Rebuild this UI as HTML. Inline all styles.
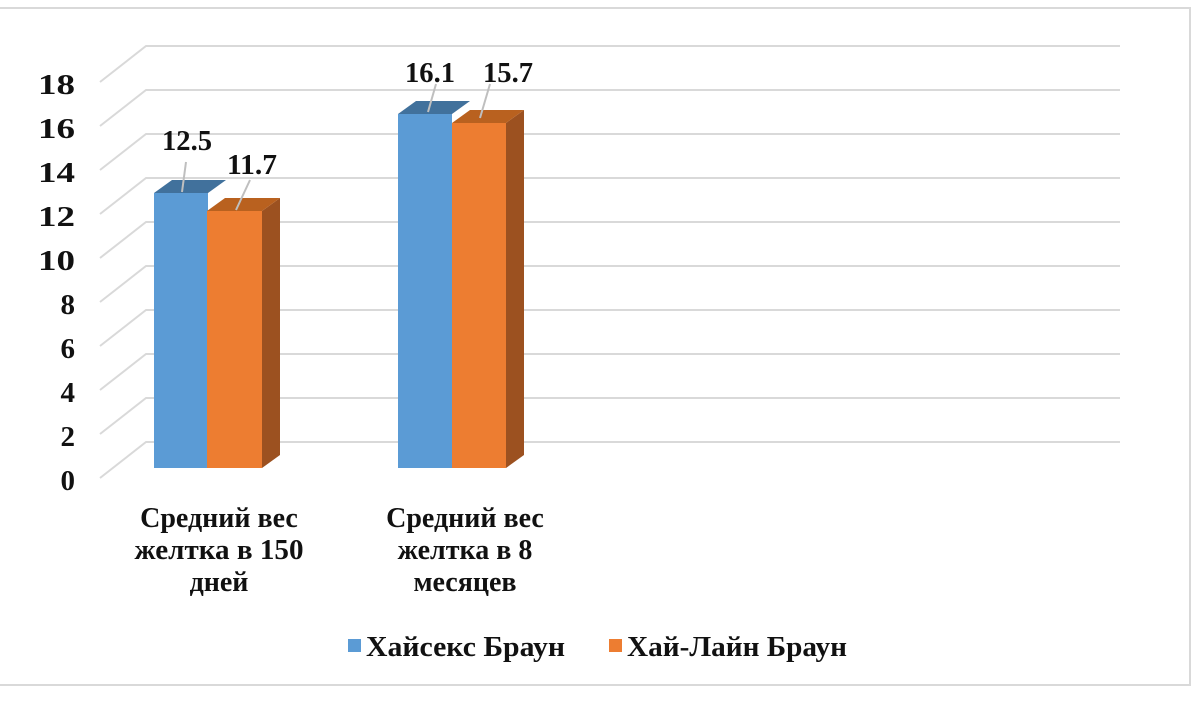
<!DOCTYPE html>
<html><head><meta charset="utf-8"><style>
html,body{margin:0;padding:0;background:#fff;}
svg text{font-family:"Liberation Serif",serif;font-weight:bold;fill:#111;}
</style></head><body>
<svg width="1200" height="713" viewBox="0 0 1200 713" xmlns="http://www.w3.org/2000/svg">
<rect x="-2" y="8" width="1192" height="677" fill="#fff" stroke="#d9d9d9" stroke-width="2"/>
<g stroke="#d9d9d9" stroke-width="2" fill="none">
<path d="M100 82 L146 46 H1120"/>
<path d="M100 126 L146 90 H1120"/>
<path d="M100 170 L146 134 H1120"/>
<path d="M100 214 L146 178 H1120"/>
<path d="M100 258 L146 222 H1120"/>
<path d="M100 302 L146 266 H1120"/>
<path d="M100 346 L146 310 H1120"/>
<path d="M100 390 L146 354 H1120"/>
<path d="M100 434 L146 398 H1120"/>
<path d="M100 478 L146 442 H1120"/>
</g>
<g font-size="29" text-anchor="end">
<text x="75" y="94" textLength="37" lengthAdjust="spacingAndGlyphs">18</text>
<text x="75" y="138" textLength="37" lengthAdjust="spacingAndGlyphs">16</text>
<text x="75" y="182" textLength="37" lengthAdjust="spacingAndGlyphs">14</text>
<text x="75" y="226" textLength="37" lengthAdjust="spacingAndGlyphs">12</text>
<text x="75" y="270" textLength="37" lengthAdjust="spacingAndGlyphs">10</text>
<text x="75" y="314">8</text>
<text x="75" y="358">6</text><text x="75" y="402">4</text><text x="75" y="446">2</text>
<text x="75" y="490">0</text>
</g>
<g>
<polygon points="154,193 172,180 226,180 208,193" fill="#41719c"/>
<rect x="154" y="193" width="54" height="275" fill="#5b9bd5"/>
<polygon points="262,211 280,198 280,455 262,468" fill="#9c5120"/>
<polygon points="207,211 225,198 280,198 262,211" fill="#b9611f"/>
<rect x="207" y="211" width="55" height="257" fill="#ed7d31"/>
<polygon points="398,114 416,101 470,101 452,114" fill="#41719c"/>
<rect x="398" y="114" width="54" height="354" fill="#5b9bd5"/>
<polygon points="506,123 524,110 524,455 506,468" fill="#9c5120"/>
<polygon points="452,123 470,110 524,110 506,123" fill="#b9611f"/>
<rect x="452" y="123" width="54" height="345" fill="#ed7d31"/>
</g>
<g stroke="#bfbfbf" stroke-width="2">
<line x1="186" y1="162" x2="182" y2="192"/>
<line x1="250" y1="180" x2="236" y2="210"/>
<line x1="436" y1="84" x2="428" y2="112"/>
<line x1="490" y1="84" x2="480" y2="118"/>
</g>
<g font-size="28">
<text x="162" y="150" textLength="50" lengthAdjust="spacingAndGlyphs">12.5</text>
<text x="227" y="174" textLength="50" lengthAdjust="spacingAndGlyphs">11.7</text>
<text x="405" y="82" textLength="50" lengthAdjust="spacingAndGlyphs">16.1</text>
<text x="483" y="82" textLength="50" lengthAdjust="spacingAndGlyphs">15.7</text>
</g>
<g font-size="28" text-anchor="middle">
<text x="219" y="527">Средний вес</text>
<text x="219" y="559" textLength="169" lengthAdjust="spacingAndGlyphs">желтка в 150</text>
<text x="219" y="591">дней</text>
<text x="465" y="527">Средний вес</text>
<text x="465" y="559">желтка в 8</text>
<text x="465" y="591">месяцев</text>
</g>
<rect x="348" y="639" width="13" height="13" fill="#5b9bd5"/>
<text x="366" y="656" font-size="28" textLength="199" lengthAdjust="spacingAndGlyphs">Хайсекс Браун</text>
<rect x="609" y="639" width="13" height="13" fill="#ed7d31"/>
<text x="627" y="656" font-size="28" textLength="220" lengthAdjust="spacingAndGlyphs">Хай-Лайн Браун</text>
</svg>
</body></html>
